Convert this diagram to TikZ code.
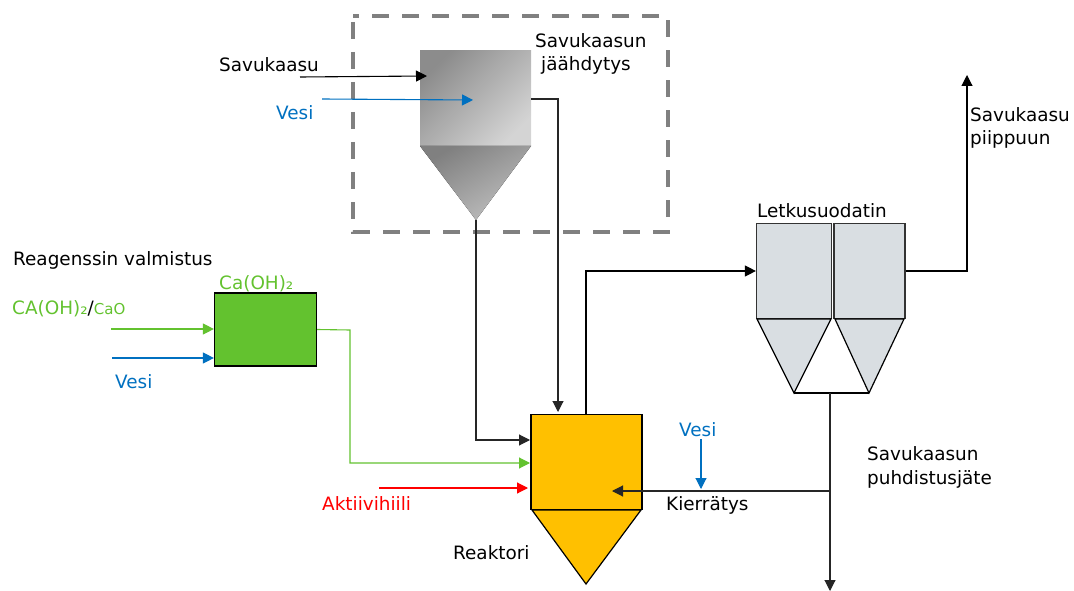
\documentclass[tikz,border=0pt]{standalone}
\usepackage{fontspec}
\setmainfont{DejaVu Sans}
\usepackage{tikz}
\usetikzlibrary{positioning,arrows.meta}
\definecolor{vesi}{HTML}{0070C0}
\definecolor{kalkki}{HTML}{63C22F}
\definecolor{reaktori}{HTML}{FFC000}
\definecolor{suodatin}{HTML}{D9DEE2}
\tikzset{
	lbl/.style={inner sep=0pt,font=\fontsize{18.4}{23.5}\selectfont,align=left},
	flow/.style={line width=1.1pt,-{Triangle[length=11pt,width=11pt]}},
}
\begin{document}
\begin{tikzpicture}[x=1pt,y=-1pt]
		\useasboundingbox (0,0) rectangle (1074,591);

		%cooling
		\draw[gray,line width=3.5pt,dash pattern=on 17pt off 13pt,dash phase=-6pt] (353,16) rectangle (668,232);
		\fill[top color=black!45,bottom color=black!17,shading angle=45] (420,51) rectangle (531,146);
		\fill[top color=black!50,bottom color=black!25,shading angle=30] (420,146) -- (531,146) -- (476,220) -- cycle;

		%coordinates of the apparatus
		\coordinate (coolin) at (427,76);
		\coordinate (coolmid) at (473,100);
		\coordinate (coolout) at (531,99);
		\coordinate (coolbot) at (476,220);

		%reactor
		\node[draw=black,fill=reaktori,line width=1.2pt,minimum width=111pt,minimum height=95pt,inner sep=0pt] (rbody) at (586.5,462) {};
		\draw[fill=reaktori,line width=1.2pt] (532,510) -- (641,510) -- (586,584) -- cycle;

		%lime box
		\node[draw=black,fill=kalkki,line width=1.2pt,minimum width=102pt,minimum height=73pt,inner sep=0pt] (lime) at (265.5,329.5) {};

		%filter
		\node[draw=black!80,fill=suodatin,line width=1.2pt,minimum width=75pt,minimum height=95pt,inner sep=0pt] (fa) at (794,271) {};
		\node[draw=black!80,fill=suodatin,line width=1.2pt,minimum width=71pt,minimum height=95pt,inner sep=0pt] (fb) at (869.5,271) {};
		\draw[fill=suodatin,line width=1.2pt] (757,319) -- (831,319) -- (794,393) -- cycle;
		\draw[fill=suodatin,line width=1.2pt] (835,319) -- (904,319) -- (869,393) -- cycle;
		\coordinate (fbotl) at (794,393);
		\coordinate (fbotr) at (869,393);
		\coordinate (fjoin) at (830,393);
		\draw[line width=1.2pt] (fbotl) -- (fbotr);

		%free ends
		\coordinate (gasin) at (300,77);
		\coordinate (wcool) at (322,99);
		\coordinate (cain) at (111,329);
		\coordinate (wlime) at (112,358);
		\coordinate (acin) at (379,488);
		\coordinate (wrec) at (701,439);
		\coordinate (stack) at (967,75);
		\coordinate (waste) at (830,591);
		\coordinate (recjoin) at (830,491);

		%labels
		\node[lbl,anchor=west] (tgas) at (219,65) {Savukaasu};
		\node[lbl,anchor=west,text=vesi] (tw1) at (276,113) {Vesi};
		\node[lbl,anchor=north west] (tcool) at (535,33) {Savukaasun\\\hspace*{6pt}jäähdytys};
		\node[lbl,anchor=west] (tprep) at (13,260) {Reagenssin valmistus};
		\node[lbl,anchor=west,text=kalkki] (tca) at (219,284) {Ca(OH)₂};
		\node[lbl,anchor=west,text=kalkki] (tcao) at (12,309) {CA(OH)₂\textcolor{black}{/}{\fontsize{15}{18}\selectfont CaO}};
		\node[lbl,anchor=west,text=vesi] (tw2) at (115,382) {Vesi};
		\node[lbl,anchor=west,text=red] (tac) at (322,504) {Aktiivihiili};
		\node[lbl,anchor=west] (treac) at (453,553) {Reaktori};
		\node[lbl,anchor=west,text=vesi] (tw3) at (679,430) {Vesi};
		\node[lbl,anchor=west] (trec) at (666,505) {Kierrätys};
		\node[lbl,anchor=north west] (twaste) at (867,446) {Savukaasun\\[1pt]puhdistusjäte};
		\node[lbl,anchor=north west] (tstack) at (970,107) {Savukaasu\\piippuun};
		\node[lbl,anchor=west] (tfilt) at (757,211) {Letkusuodatin};

		%black connectors
		\draw[flow] (gasin) -- (coolin);
		\draw[flow,black!85] (coolout) -- (558,99) -- (558,412);
		\draw[flow,black!85] (coolbot) -- (476,440) -- (530,440);
		\draw[flow] (586,414) -- (586,271) -- (fa.west);
		\draw[flow] (fb.east) -- (967,271) -- (stack);
		\draw[flow,black!85] (fjoin) -- (waste);
		\draw[flow,black!85] (recjoin) -- (612,491);

		%coloured connectors
		\draw[flow,vesi] (wcool) -- (coolmid);
		\draw[flow,kalkki] (cain) -- (lime.west |- cain);
		\draw[flow,vesi] (wlime) -- (lime.west |- wlime);
		\draw[flow,kalkki] (lime.east) -- (350,330) -- (350,463) -- (530,463);
		\draw[flow,red] (acin) -- (528,488);
		\draw[flow,vesi] (wrec) -- (701,489);

		\end{tikzpicture}
\end{document}
